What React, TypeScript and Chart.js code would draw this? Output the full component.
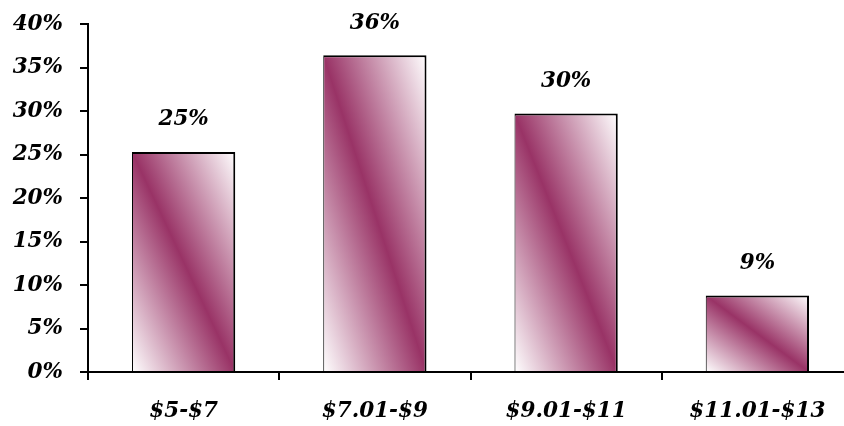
import React, { useEffect, useRef } from "react";
import { Chart, registerables } from "chart.js";

Chart.register(...registerables);

const categories = ["$5-$7", "$7.01-$9", "$9.01-$11", "$11.01-$13"];
const shares = [25.3, 36.4, 29.7, 8.8];
const yTicks = [0, 5, 10, 15, 20, 25, 30, 35, 40];

const FONT_FAMILY = "'DejaVu Serif', serif";
const FONT_SIZE = 21.5;
const BAR_PCT = 0.54;
const PLUM = "#993366";

export default function App() {
  const canvasRef = useRef<HTMLCanvasElement | null>(null);

  useEffect(() => {
    const canvas = canvasRef.current;
    if (!canvas) return;

    const labelPlugin = {
      id: "valueLabels",
      afterDatasetsDraw(chart: any) {
        const ctx = chart.ctx;
        const meta = chart.getDatasetMeta(0);
        ctx.save();
        ctx.font = `italic bold ${FONT_SIZE}px ${FONT_FAMILY}`;
        ctx.fillStyle = "#000";
        ctx.textAlign = "center";
        ctx.textBaseline = "middle";
        meta.data.forEach((el: any, i: number) => {
          ctx.fillText(Math.round(shares[i]) + "%", el.x, el.y - 32);
        });
        ctx.restore();
      },
    };

    const gradientFill = (context: any) => {
      const chart = context.chart;
      const xs = chart.scales?.x;
      const ys = chart.scales?.y;
      if (!xs || !ys || !chart.chartArea) return PLUM;
      const i = context.dataIndex;
      const v = shares[i];
      const cx = xs.getPixelForValue(i);
      const w = (xs.width / categories.length) * BAR_PCT;
      const left = cx - w / 2;
      const top = ys.getPixelForValue(v);
      const bottom = ys.getPixelForValue(0);
      const h = bottom - top;
      if (!isFinite(h) || h <= 0 || !isFinite(left)) return PLUM;
      const len = Math.sqrt(w * w + h * h);
      const d = (2 * w * h) / len;
      const nx = h / len;
      const ny = -w / len;
      const g = chart.ctx.createLinearGradient(left, bottom, left + nx * d, bottom + ny * d);
      g.addColorStop(0, "#ffffff");
      g.addColorStop(0.5, PLUM);
      g.addColorStop(1, "#ffffff");
      return g;
    };

    const font = { family: FONT_FAMILY, size: FONT_SIZE, style: "italic" as const, weight: "bold" as const };

    const chart = new Chart(canvas, {
      type: "bar",
      data: {
        labels: categories,
        datasets: [
          {
            data: shares,
            backgroundColor: gradientFill,
            borderColor: "#000",
            borderWidth: { top: 2, right: 2, left: 1, bottom: 0 },
            borderSkipped: false,
            barPercentage: BAR_PCT,
            categoryPercentage: 1,
          },
        ],
      },
      options: {
        responsive: false,
        animation: false,
        layout: { padding: { top: 24, right: 0, left: 0, bottom: 0 } },
        plugins: {
          legend: { display: false },
          tooltip: { enabled: false },
        },
        scales: {
          x: {
            grid: {
              offset: true,
              drawOnChartArea: false,
              drawTicks: true,
              tickLength: 8,
              color: "#000",
              lineWidth: 2,
            },
            border: { display: true, color: "#000", width: 2 },
            ticks: { color: "#000", font, padding: 19, maxRotation: 0 },
            afterFit: (scale: any) => {
              scale.height = 54;
              scale.paddingLeft = 0;
              scale.paddingRight = 0;
            },
          },
          y: {
            min: 0,
            max: 40,
            afterBuildTicks: (scale: any) => {
              scale.ticks = yTicks.map((v) => ({ value: v }));
            },
            grid: {
              drawOnChartArea: false,
              drawTicks: true,
              tickLength: 8,
              color: "#000",
              lineWidth: 2,
            },
            border: { display: true, color: "#000", width: 2 },
            ticks: {
              color: "#000",
              font,
              padding: 17,
              callback: (v: any) => v + "%",
            },
            afterFit: (scale: any) => {
              scale.width = 88;
              scale.paddingTop = 0;
              scale.paddingBottom = 0;
            },
          },
        },
      },
      plugins: [labelPlugin],
    });

    return () => chart.destroy();
  }, []);

  return (
    <div style={{ position: "absolute", left: 0, top: 0, width: 844, height: 426, overflow: "hidden", background: "#fff" }}>
      <canvas ref={canvasRef} width={853} height={426} />
    </div>
  );
}
